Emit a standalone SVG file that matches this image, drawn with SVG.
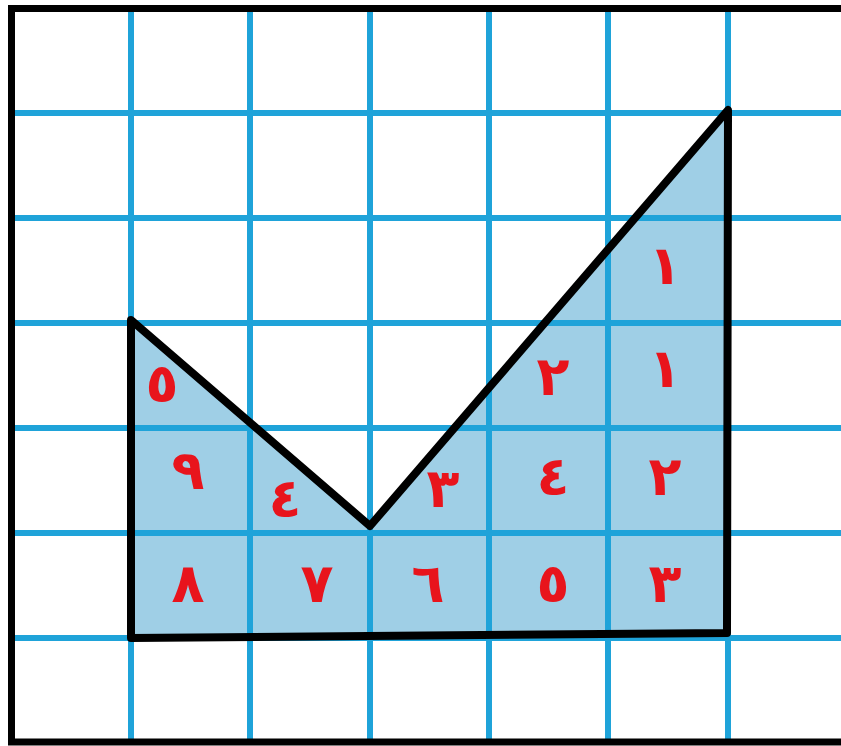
<svg xmlns="http://www.w3.org/2000/svg" width="841" height="746" viewBox="0 0 841 746">
<style>
.grid line{stroke:#1fa3d9;stroke-width:6}
.lbl{font-family:"DejaVu Sans",sans-serif;font-weight:bold;font-size:54px;fill:#e8141c;text-anchor:middle;dominant-baseline:central}
</style>
<rect x="0" y="0" width="841" height="746" fill="#ffffff"/>
<g id="shape-fill">
<polygon points="131,320 370,526 728,110 727,633 131,638" fill="#9fcfe6"/>
</g>
<g class="grid" id="grid">
<line x1="131" y1="10" x2="131" y2="742"/>
<line x1="250" y1="10" x2="250" y2="742"/>
<line x1="370" y1="10" x2="370" y2="742"/>
<line x1="489" y1="10" x2="489" y2="742"/>
<line x1="608" y1="10" x2="608" y2="742"/>
<line x1="728" y1="10" x2="728" y2="742"/>
<line x1="12" y1="113" x2="841" y2="113"/>
<line x1="12" y1="218" x2="841" y2="218"/>
<line x1="12" y1="323" x2="841" y2="323"/>
<line x1="12" y1="428" x2="841" y2="428"/>
<line x1="12" y1="533" x2="841" y2="533"/>
<line x1="12" y1="638" x2="841" y2="638"/>
</g>
<g id="shape-outline">
<polygon points="131,320 370,526 728,110 727,633 131,638" fill="none" stroke="#000000" stroke-width="8" stroke-linejoin="round"/>
</g>
<g id="border">
<polyline points="841,8.5 11.5,8.5 11.5,742 841,742" fill="none" stroke="#000000" stroke-width="7"/>
</g>
<g id="labels">
<text class="lbl" x="162" y="383">٥</text>
<text class="lbl" x="188" y="470">٩</text>
<text class="lbl" x="285" y="498">٤</text>
<text class="lbl" x="188" y="583">٨</text>
<text class="lbl" x="317" y="583">٧</text>
<text class="lbl" x="428" y="583">٦</text>
<text class="lbl" x="553" y="583">٥</text>
<text class="lbl" x="665" y="583">٣</text>
<text class="lbl" x="443" y="488">٣</text>
<text class="lbl" x="553" y="476">٤</text>
<text class="lbl" x="665" y="476">٢</text>
<text class="lbl" x="553" y="376">٢</text>
<text class="lbl" x="665" y="368">١</text>
<text class="lbl" x="665" y="265">١</text>
</g>
</svg>
